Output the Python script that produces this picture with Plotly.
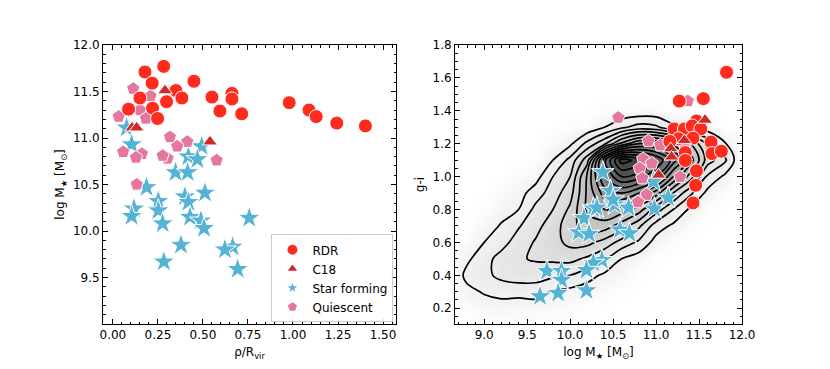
import plotly.graph_objects as go

# ---------------- Left panel data (rho/Rvir vs log M*) ----------------
rdr_rho = [0.178, 0.282, 0.218, 0.150, 0.350, 0.298, 0.383, 0.450, 0.087, 0.220, 0.248,
           0.550, 0.661, 0.661, 0.594, 0.715, 0.979, 1.089, 1.129, 1.243, 1.402]
rdr_mass = [11.71, 11.77, 11.59, 11.43, 11.51, 11.39, 11.43, 11.61, 11.31, 11.32, 11.21,
            11.44, 11.48, 11.42, 11.29, 11.26, 11.38, 11.30, 11.23, 11.16, 11.13]

c18_rho = [0.289, 0.107, 0.132, 0.539]
c18_mass = [11.51, 11.11, 11.11, 10.96]

sf_rho = [0.076, 0.104, 0.493, 0.419, 0.469, 0.348, 0.415, 0.187, 0.252, 0.400, 0.511,
          0.419, 0.117, 0.104, 0.252, 0.276, 0.428, 0.489, 0.506, 0.757, 0.378, 0.665,
          0.622, 0.283, 0.693]
sf_mass = [11.11, 10.93, 10.91, 10.80, 10.77, 10.63, 10.63, 10.47, 10.32, 10.37, 10.41,
           10.31, 10.24, 10.16, 10.22, 10.08, 10.15, 10.11, 10.03, 10.14, 9.85, 9.83,
           9.80, 9.67, 9.59]

q_rho = [0.113, 0.209, 0.032, 0.150, 0.183, 0.317, 0.413, 0.357, 0.057, 0.161, 0.128,
         0.304, 0.276, 0.576, 0.132]
q_mass = [11.53, 11.45, 11.23, 11.30, 11.21, 11.01, 10.96, 10.91, 10.85, 10.83, 10.79,
          10.78, 10.81, 10.76, 10.50]

# ---------------- Right panel data (log M* vs g-i) ----------------
rdr_m2 = [11.82, 11.27, 11.55, 11.47, 11.21, 11.33, 11.42, 11.52, 11.26, 11.43, 11.16,
          11.64, 11.34, 11.65, 11.76, 11.34, 11.47, 11.46, 11.43]
rdr_gi = [1.634, 1.459, 1.474, 1.338, 1.290, 1.290, 1.308, 1.290, 1.230, 1.234, 1.214,
          1.210, 1.146, 1.140, 1.154, 1.098, 1.035, 0.947, 0.840]

c18_m2 = [11.57, 11.33, 11.17, 11.18, 11.03]
c18_gi = [1.344, 1.220, 1.170, 1.120, 1.010]

sf_m2 = [10.38, 10.47, 10.52, 10.27, 10.68, 10.98, 11.14, 10.97, 10.16, 10.10, 10.22,
         10.58, 10.69, 10.37, 10.27, 9.73, 9.90, 9.90, 10.19, 9.65, 9.86, 10.19, 10.50, 10.31]
sf_gi = [1.026, 0.913, 0.829, 0.805, 0.811, 0.805, 0.871, 0.970, 0.747, 0.661, 0.651,
         0.677, 0.655, 0.492, 0.475, 0.426, 0.426, 0.372, 0.432, 0.272, 0.292, 0.308, 0.860, 0.811]

q_m2 = [10.56, 11.37, 10.91, 11.05, 10.85, 10.95, 10.81, 10.84, 11.28, 10.89, 10.79, 11.33]
q_gi = [1.359, 1.459, 1.216, 1.190, 1.107, 1.080, 1.050, 0.990, 0.998, 0.890, 0.845, 1.200]

# ---------------- Background galaxy density ----------------
dens_x = [8.6, 8.8, 9.0, 9.2, 9.4, 9.6, 9.8, 10.0, 10.2, 10.4, 10.6, 10.8, 11.0, 11.2,
          11.4, 11.6, 11.8, 12.0]
dens_y = [0.1, 0.2, 0.3, 0.4, 0.5, 0.6, 0.7, 0.8, 0.9, 1.0, 1.1, 1.2, 1.3, 1.4, 1.5, 1.6]
# columns listed per x (values for y = 0.1 ... 1.6)
dens_cols = [
    [0, 0, 0, 0, 0, 0, 0, 0, 0, 0, 0, 0, 0, 0, 0, 0],                                  # 8.6
    [0, 0.2, 0.7, 1.3, 0.8, 0.3, 0, 0, 0, 0, 0, 0, 0, 0, 0, 0],                        # 8.8
    [0, 0.5, 1.1, 1.7, 1.6, 1.0, 0.5, 0.2, 0, 0, 0, 0, 0, 0, 0, 0],                    # 9.0
    [0.1, 0.6, 1.3, 2.3, 2.4, 1.6, 1.1, 0.6, 0.3, 0, 0, 0, 0, 0, 0, 0],                # 9.2
    [0.1, 0.5, 1.3, 2.6, 2.9, 2.5, 1.9, 1.0, 0.6, 0.3, 0, 0, 0, 0, 0, 0],              # 9.4
    [0.1, 0.5, 1.4, 2.5, 3.1, 3.1, 2.7, 2.3, 1.5, 0.6, 0.2, 0, 0, 0, 0, 0],            # 9.6
    [0, 0.4, 0.9, 2.2, 3.2, 3.6, 3.5, 3.0, 2.5, 2.0, 1.0, 0.4, 0, 0, 0, 0],            # 9.8
    [0, 0.2, 0.7, 2.0, 3.3, 4.3, 4.6, 4.2, 3.6, 3.0, 2.3, 0.8, 0.2, 0, 0, 0],          # 10.0
    [0, 0.1, 0.5, 1.4, 2.8, 4.3, 5.5, 6.2, 6.2, 6.2, 4.6, 2.3, 0.3, 0, 0, 0],          # 10.2
    [0, 0, 0.3, 0.8, 2.1, 3.6, 5.5, 7.0, 8.5, 10.0, 10.8, 3.8, 1.0, 0.2, 0, 0],        # 10.4
    [0, 0, 0.1, 0.5, 1.0, 2.6, 4.5, 6.5, 9.0, 12.0, 14.5, 6.3, 1.8, 0.2, 0, 0],        # 10.6
    [0, 0, 0, 0.1, 0.5, 1.8, 3.2, 5.5, 8.0, 11.5, 13.6, 8.0, 2.4, 0.3, 0, 0],          # 10.8
    [0, 0, 0, 0, 0.1, 0.6, 1.5, 3.5, 6.5, 10.0, 12.0, 8.0, 2.2, 0.3, 0, 0],            # 11.0
    [0, 0, 0, 0, 0, 0.2, 0.8, 2.0, 4.0, 7.0, 9.5, 6.8, 1.2, 0.1, 0, 0],                # 11.2
    [0, 0, 0, 0, 0, 0, 0.3, 0.8, 2.2, 4.5, 6.5, 5.0, 0.8, 0, 0, 0],                    # 11.4
    [0, 0, 0, 0, 0, 0, 0, 0.2, 0.7, 1.8, 3.5, 2.8, 0.4, 0, 0, 0],                      # 11.6
    [0, 0, 0, 0, 0, 0, 0, 0, 0.2, 0.8, 2.2, 1.1, 0, 0, 0, 0],                          # 11.8
    [0, 0, 0, 0, 0, 0, 0, 0, 0, 0, 0, 0, 0, 0, 0, 0],                                  # 12.0
]
dens_z = [[dens_cols[i][j] for i in range(len(dens_x))] for j in range(len(dens_y))]

# ---------------- Styles ----------------
RED = "#FF2B1E"
DRED = "#D12A2A"
BLUE = "#56B3D4"
PINK = "#E5779F"
FONT = "DejaVu Sans"

# page body has an 8px margin: figure occupies screen x 8..830, y 8..369
W, H = 822, 361
ml, mr, mt, mb = 95, 88, 37, 41
pw = W - ml - mr
left_dom = [0, (396 - 8 - ml) / pw]
right_dom = [(455 - 8 - ml) / pw, 1]

fig = go.Figure()

fig.add_trace(go.Contour(
    x=dens_x, y=dens_y, z=dens_z, xaxis="x2", yaxis="y2",
    contours=dict(start=1, end=14, size=1, coloring="heatmap", showlines=True),
    line=dict(color="black", width=1.7, smoothing=1.0),
    colorscale=[[0, "#ffffff"], [0.05, "#f4f4f4"], [0.2, "#e3e3e3"], [0.4, "#c2c2c2"],
                [0.6, "#8e8e8e"], [0.8, "#5c5c5c"], [1, "#383838"]],
    zmin=0, zmax=14.5, showscale=False, hoverinfo="skip", showlegend=False))

mk_line = dict(color="white", width=1)

def add(xs, ys, name, symbol, color, size, ax, show, rank):
    fig.add_trace(go.Scatter(
        x=xs, y=ys, mode="markers", name=name, showlegend=show, legendrank=rank,
        xaxis="x" if ax == 1 else "x2", yaxis="y" if ax == 1 else "y2",
        marker=dict(symbol=symbol, color=color, size=size, line=mk_line)))

add(sf_rho, sf_mass, "Star forming", "star", BLUE, 17, 1, True, 3)
add(q_rho, q_mass, "Quiescent", "pentagon", PINK, 14, 1, True, 4)
add(rdr_rho, rdr_mass, "RDR", "circle", RED, 14, 1, True, 1)
add(c18_rho, c18_mass, "C18", "triangle-up", DRED, 13, 1, True, 2)

add(sf_m2, sf_gi, "Star forming", "star", BLUE, 17, 2, False, 3)
add(q_m2, q_gi, "Quiescent", "pentagon", PINK, 14, 2, False, 4)
add(rdr_m2, rdr_gi, "RDR", "circle", RED, 14, 2, False, 1)
add(c18_m2, c18_gi, "C18", "triangle-up", DRED, 13, 2, False, 2)

tickfont = dict(family=FONT, size=12, color="black")
common = dict(showline=True, linecolor="black", linewidth=1, mirror="allticks",
              ticks="inside", ticklen=5, tickwidth=1, tickcolor="black",
              showgrid=False, zeroline=False, tickfont=tickfont)

def minor(d):
    return dict(ticks="inside", ticklen=2.5, tickwidth=1, tickcolor="black", dtick=d, showgrid=False)

fig.update_layout(
    width=W, height=H, margin=dict(l=ml, r=mr, t=mt, b=mb),
    paper_bgcolor="white", plot_bgcolor="white",
    font=dict(family=FONT, size=12, color="black"),
    xaxis=dict(domain=left_dom, range=[-0.055, 1.572], tick0=0, dtick=0.25, tickformat=".2f",
               minor=minor(0.05), anchor="y",
               title=dict(text="ρ/R<sub>vir</sub>", font=dict(family=FONT, size=12), standoff=6),
               **common),
    yaxis=dict(domain=[0, 1], range=[9.0, 12.0], tickvals=[9.5, 10.0, 10.5, 11.0, 11.5, 12.0],
               tickformat=".1f", minor=minor(0.1), anchor="x",
               title=dict(text="log M<sub>★</sub> [M<sub>⊙</sub>]", font=dict(family=FONT, size=12), standoff=5),
               **common),
    xaxis2=dict(domain=right_dom, range=[8.66, 12.0], tick0=9.0, dtick=0.5, tickformat=".1f",
                minor=minor(0.1), anchor="y2",
                title=dict(text="log M<sub>★</sub> [M<sub>⊙</sub>]", font=dict(family=FONT, size=12), standoff=6),
                **common),
    yaxis2=dict(domain=[0, 1], range=[0.104, 1.8], tick0=0.2, dtick=0.2, tickformat=".1f",
                minor=minor(0.05), anchor="x2",
                title=dict(text="g-i", font=dict(family=FONT, size=12), standoff=5),
                **common),
    legend=dict(x=left_dom[1] - 0.004, xanchor="right", y=0.006, yanchor="bottom",
                bgcolor="rgba(255,255,255,0.85)", bordercolor="#cccccc", borderwidth=1,
                font=dict(family=FONT, size=12, color="black"), tracegroupgap=0,
                itemsizing="constant"),
)

fig.write_html("out.html")
